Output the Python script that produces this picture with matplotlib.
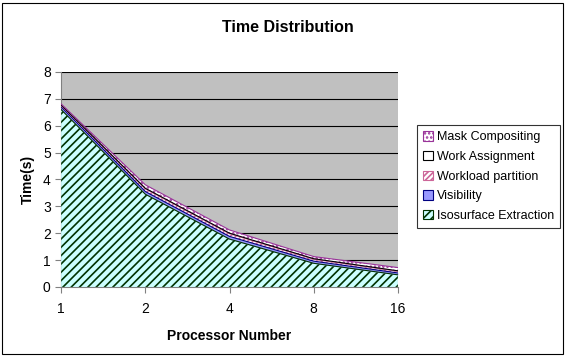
import matplotlib
matplotlib.use('Agg')
import matplotlib.pyplot as plt
from matplotlib.patches import Rectangle

plt.rcParams['font.family'] = ['Liberation Sans', 'DejaVu Sans']
plt.rcParams['hatch.linewidth'] = 1.2

# data
procs = ['1', '2', '4', '8', '16']
iso = [6.6, 3.45, 1.78, 0.88, 0.45]
visibility = [0.1, 0.1, 0.1, 0.08, 0.07]
workload = [0.05, 0.1, 0.1, 0.07, 0.06]
work_assign = [0.02, 0.02, 0.02, 0.02, 0.02]
mask = [0.04, 0.13, 0.12, 0.08, 0.12]

series = [iso, visibility, workload, work_assign, mask]
names = ['Isosurface Extraction', 'Visibility', 'Workload partition',
         'Work Assignment', 'Mask Compositing']
faces = ['#CCFFFF', '#9999FF', '#FFFFFF', '#FFFFFF', '#FFFFFF']
hatch_col = ['#003300', '#000080', '#CC6699', '#000000', '#993399']
hatches = ['////', None, '//////', None, '....']

fig = plt.figure(figsize=(5.66, 3.56), dpi=100)
ax = fig.add_axes([0.108, 0.194, 0.595, 0.604])
ax.set_facecolor('#C0C0C0')

x = list(range(len(procs)))
base = [0.0] * len(procs)
for vals, name, fc, hc, h in zip(series, names, faces, hatch_col, hatches):
    top = [b + v for b, v in zip(base, vals)]
    ax.fill_between(x, base, top, facecolor=fc, edgecolor=hc,
                    hatch=h, linewidth=0, label=name, zorder=3)
    ax.plot(x, top, color=hc, linewidth=0.8, zorder=4)
    base = top

ax.set_xlim(0, 4)
ax.set_ylim(0, 8)
ax.set_xticks(x)
ax.set_xticklabels(procs)
ax.set_yticks(range(9))
ax.yaxis.grid(True, color='black', linewidth=0.8, zorder=1)
ax.set_axisbelow(True)
for s in ['top', 'right']:
    ax.spines[s].set_visible(False)
for s in ['left', 'bottom']:
    ax.spines[s].set_color('#808080')
ax.tick_params(axis='both', colors='#808080', labelcolor='black',
               labelsize=10, length=4, direction='out')
ax.tick_params(axis='x', pad=7)

ax.set_xlabel('Processor Number', fontsize=10, fontweight='bold', labelpad=9)
ax.set_ylabel('Time(s)', fontsize=10, fontweight='bold', labelpad=6)
fig.text(0.509, 0.922, 'Time Distribution', ha='center', va='center',
         fontsize=11.5, fontweight='bold')

handles = []
for fc, hc, h in zip(faces, hatch_col, hatches):
    handles.append(Rectangle((0, 0), 1, 1, facecolor=fc, edgecolor=hc,
                             hatch=h, linewidth=0.8))
leg = fig.legend(handles[::-1], names[::-1], loc='center left',
                 bbox_to_anchor=(0.737, 0.504), fontsize=9, frameon=True,
                 fancybox=False, edgecolor='black', handlelength=0.8,
                 handleheight=0.8, handletextpad=0.25, borderpad=0.5,
                 labelspacing=0.6, borderaxespad=0)
leg.get_frame().set_linewidth(0.8)

fig.patches.append(Rectangle((0.004, 0.006), 0.990, 0.985,
                             transform=fig.transFigure, fill=False,
                             edgecolor='black', linewidth=0.8))

fig.savefig('out.png', dpi=100)
